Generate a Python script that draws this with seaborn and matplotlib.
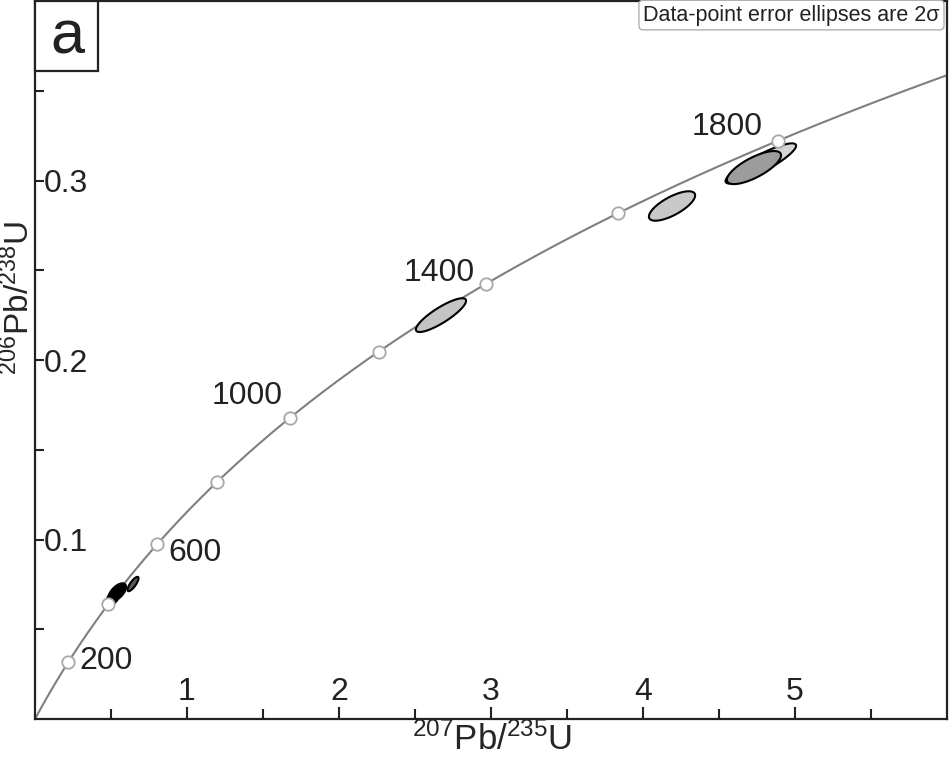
import numpy as np
import pandas as pd
import seaborn as sns
import matplotlib.pyplot as plt
from matplotlib.patches import Rectangle

# U decay constants (1/yr) used for the concordia curve
LAMBDA_238 = 1.55125e-10
LAMBDA_235 = 9.8485e-10

# age markers on the concordia (Ma) and which ones get a label
marker_ages = [200, 400, 600, 800, 1000, 1200, 1400, 1600, 1800]
label_ages = [200, 600, 1000, 1400, 1800]
label_dx = [38, 38, -43, -47, -51]      # text offset from marker, pixels
label_dy = [1, -9, 22, 11, 14]

# data-point error ellipses (2 sigma)
ell_x = [2.671, 4.191, 4.775, 4.730, 0.513, 0.541, 0.645]
ell_y = [0.2250, 0.2858, 0.3095, 0.3072, 0.0675, 0.0706, 0.0752]
ell_sx = [0.165, 0.152, 0.232, 0.178, 0.045, 0.058, 0.036]
ell_sy = [0.0094, 0.0082, 0.0112, 0.0092, 0.0042, 0.0050, 0.0040]
ell_rho = [0.85, 0.72, 0.88, 0.74, 0.55, 0.60, 0.80]
ell_fill = ['#c4c4c4', '#c8c8c8', '#d4d4d4', '#9c9c9c', 'black', 'black', '#5a5a5a']

sns.set_style('ticks')
plt.rcParams['font.family'] = ['Liberation Sans', 'DejaVu Sans']
plt.rcParams['mathtext.default'] = 'regular'

fig = plt.figure(figsize=(9.49, 7.57), dpi=100)
ax = fig.add_axes([35 / 949, 38 / 757, 912 / 949, 718 / 757])

# concordia curve
t = np.linspace(0, 2100e6, 600)
curve = pd.DataFrame({'x': np.exp(LAMBDA_235 * t) - 1,
                      'y': np.exp(LAMBDA_238 * t) - 1})
sns.lineplot(data=curve, x='x', y='y', sort=False, color='#7f7f7f',
             lw=1.5, ax=ax, zorder=1)

# error ellipses
theta = np.linspace(0, 2 * np.pi, 200)
for x0, y0, sx, sy, r, fc in zip(ell_x, ell_y, ell_sx, ell_sy, ell_rho, ell_fill):
    ex = x0 + sx * np.cos(theta)
    ey = y0 + sy * (r * np.cos(theta) + np.sqrt(1 - r ** 2) * np.sin(theta))
    ax.fill(ex, ey, facecolor=fc, edgecolor='black', lw=1.5, zorder=2)

# age markers
ages = np.array(marker_ages) * 1e6
marks = pd.DataFrame({'x': np.exp(LAMBDA_235 * ages) - 1,
                      'y': np.exp(LAMBDA_238 * ages) - 1})
sns.scatterplot(data=marks, x='x', y='y', s=80, facecolor='white',
                edgecolor='#a8a8a8', linewidth=1.3, ax=ax, zorder=3)

for age, dx, dy in zip(label_ages, label_dx, label_dy):
    a = age * 1e6
    ax.annotate(str(age), (np.exp(LAMBDA_235 * a) - 1, np.exp(LAMBDA_238 * a) - 1),
                xytext=(dx, dy), textcoords='offset pixels',
                ha='center', va='center', fontsize=23, color='#222222')

ax.set_xlim(0, 6.0)
ax.set_ylim(0, 0.4)
ax.set_xticks([1, 2, 3, 4, 5])
ax.set_xticks([0.5, 1.5, 2.5, 3.5, 4.5, 5.5], minor=True)
ax.set_yticks([0.1, 0.2, 0.3])
ax.set_yticks([0.05, 0.15, 0.25, 0.35], minor=True)
ax.set_xticklabels(['1', '2', '3', '4', '5'])
ax.set_yticklabels(['0.1', '0.2', '0.3'])
ax.tick_params(which='both', direction='in', width=1.5, labelsize=23,
               colors='#222222')
ax.tick_params(axis='x', which='major', length=9, pad=-9)
ax.tick_params(axis='x', which='minor', length=7)
ax.tick_params(axis='y', which='both', length=6.5, pad=-6)
plt.setp(ax.get_xticklabels(), va='bottom')
plt.setp(ax.get_yticklabels(), ha='left')
for sp in ax.spines.values():
    sp.set_linewidth(1.6)
    sp.set_color('#222222')

ax.set_xlabel(r'$^{207}$Pb/$^{235}$U', fontsize=25, va='center')
ax.xaxis.set_label_coords(0.501, -0.029)
ax.set_ylabel(r'$^{206}$Pb/$^{238}$U', fontsize=24, va='center')
ax.yaxis.set_label_coords(-0.0175, 0.586)

# panel letter
ax.add_patch(Rectangle((0, 1 - 70 / 718), 63 / 912, 70 / 718, transform=ax.transAxes,
                       facecolor='white', edgecolor='#222222', lw=1.6,
                       zorder=5, clip_on=False))
ax.text(32 / 912, 1 - 53 / 718, 'a', transform=ax.transAxes, ha='center',
        va='baseline', fontsize=44, color='#222222', zorder=6)

ax.text(0.992, 0.995, 'Data-point error ellipses are 2σ', transform=ax.transAxes,
        ha='right', va='top', fontsize=15.5, color='#222222', zorder=6,
        bbox=dict(boxstyle='round,pad=0.2', facecolor='white',
                  edgecolor='#b0b0b0', lw=1))

fig.savefig('out.png', dpi=100)
